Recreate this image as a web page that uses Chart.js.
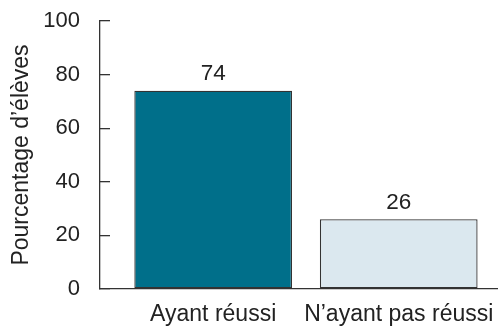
<!DOCTYPE html>
<html>
<head>
<meta charset="utf-8">
<script src="https://cdn.jsdelivr.net/npm/chart.js@4/dist/chart.umd.min.js"></script>
<style>
  html, body { margin: 0; padding: 0; background: #fff; }
  #wrap { width: 498px; height: 330px; position: relative; }
</style>
</head>
<body>
<div id="wrap"><canvas id="resultChart"></canvas></div>
<script>
// Résultats des élèves
const categories = ["Ayant réussi", "N\u2019ayant pas réussi"];
const percentages = [74, 26];
const barColors = ["#006f8a", "#dbe8ef"];
const yTicks = [0, 20, 40, 60, 80, 100];

const textColor = "#222";
const lineColor = "#333";
const fontFamily = "'Liberation Sans', Arial, Helvetica, sans-serif";

// valeur écrite au-dessus de chaque barre
const valueLabels = {
    id: "valueLabels",
    afterDatasetsDraw(chart) {
        const ctx = chart.ctx;
        const meta = chart.getDatasetMeta(0);
        ctx.save();
        ctx.font = "22.5px " + fontFamily;
        ctx.fillStyle = textColor;
        ctx.textAlign = "center";
        ctx.textBaseline = "middle";
        meta.data.forEach((bar, i) => {
            ctx.fillText(String(percentages[i]), bar.x, bar.y - 17);
        });
        ctx.restore();
    }
};

new Chart(document.getElementById("resultChart").getContext("2d"), {
    type: "bar",
    data: {
        datasets: [{
            data: categories.map((c, i) => ({ x: i, y: percentages[i] })),
            backgroundColor: barColors,
            borderColor: lineColor,
            borderWidth: 1.3,
            borderSkipped: false,
            barPercentage: 0.85,
            categoryPercentage: 1
        }]
    },
    options: {
        responsive: true,
        maintainAspectRatio: false,
        animation: false,
        layout: { padding: { top: 21, right: 0, bottom: 0, left: 0 } },
        plugins: {
            legend: { display: false },
            tooltip: { enabled: false }
        },
        scales: {
            x: {
                type: "linear",
                offset: false,
                min: -0.61,
                max: 1.535,
                afterBuildTicks: scale => {
                    scale.ticks = categories.map((c, i) => ({ value: i }));
                },
                afterFit: scale => {
                    scale.height = 41;
                    scale.paddingLeft = 0;
                    scale.paddingRight = 0;
                },
                grid: { display: false, drawTicks: false },
                border: { display: true, color: lineColor, width: 1.3 },
                ticks: {
                    color: textColor,
                    font: { size: 23, family: fontFamily },
                    padding: 12,
                    maxRotation: 0,
                    autoSkip: false,
                    callback: v => categories[v]
                }
            },
            y: {
                min: 0,
                max: 100,
                afterBuildTicks: scale => {
                    scale.ticks = yTicks.map(v => ({ value: v }));
                },
                afterFit: scale => {
                    scale.width = 100;
                    scale.paddingTop = 0;
                    scale.paddingBottom = 0;
                },
                grid: {
                    drawOnChartArea: false,
                    color: lineColor,
                    lineWidth: 1.3,
                    tickLength: -10
                },
                border: { display: true, color: lineColor, width: 1.3 },
                ticks: {
                    color: textColor,
                    font: { size: 22, family: fontFamily },
                    padding: 30
                },
                title: {
                    display: true,
                    text: "Pourcentage d\u2019élèves",
                    color: textColor,
                    font: { size: 23, family: fontFamily },
                    padding: { top: 8, bottom: 0 }
                }
            }
        }
    },
    plugins: [valueLabels]
});
</script>
</body>
</html>
